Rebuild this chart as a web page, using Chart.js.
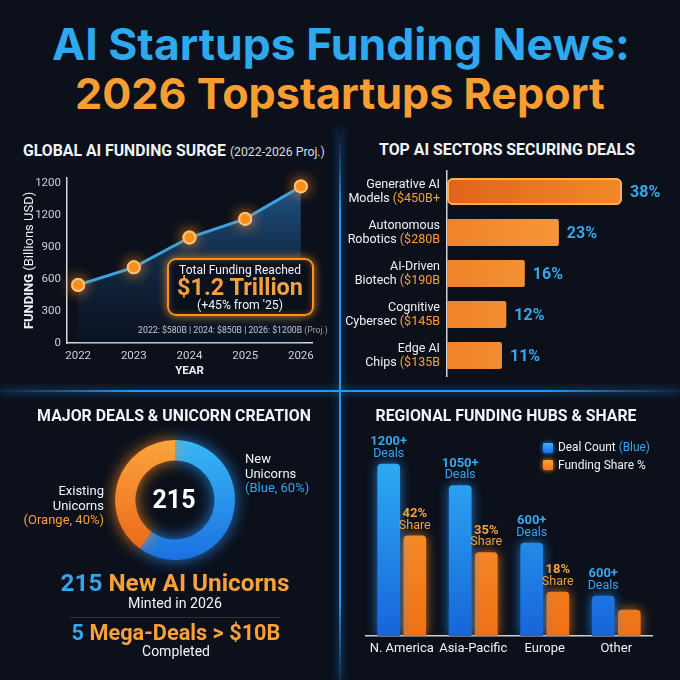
<!DOCTYPE html>
<html>
<head>
<meta charset="utf-8">
<script src="https://cdn.jsdelivr.net/npm/chart.js@4.4.1/dist/chart.umd.min.js"></script>
<style>
  body { margin:0; width:680px; height:680px; overflow:hidden; position:relative;
         background:#0b101b; font-family:Roboto, 'Noto Sans', sans-serif; color:#f1f3f7; }
  canvas { position:absolute; }
  .t { position:absolute; white-space:nowrap; line-height:1; transform:translate(-50%,-50%); }
  .l { position:absolute; white-space:nowrap; line-height:1; transform:translateY(-50%); }
  .b { font-weight:700; }
  .blue { color:#34a6ec; }
  .orange { color:#f8a03a; }
  .vline { position:absolute; left:339px; top:128px; width:2px; height:552px;
           background:linear-gradient(#1e88e500,#2a98f0 15%,#2a98f0 85%,#1e88e540);
           box-shadow:0 0 8px #1e7fd8; }
  .hline { position:absolute; left:0; top:390px; width:680px; height:2px;
           background:linear-gradient(90deg,#1e88e530,#2a98f0 20%,#2a98f0 80%,#1e88e530);
           box-shadow:0 0 8px #1e7fd8; }
  .box { position:absolute; left:167px; top:258px; width:143px; height:54px;
         border:2px solid #f7931e; border-radius:9px; background:rgba(11,15,26,0.88);
         box-shadow:0 0 10px rgba(247,147,30,0.85), inset 0 0 6px rgba(247,147,30,0.35); }
  .sq { position:absolute; width:10px; height:10px; border-radius:1px; }
</style>
</head>
<body>
<div class="vline"></div>
<div class="hline"></div>

<canvas id="cLine" width="340" height="220" style="left:0;top:165px"></canvas>
<canvas id="cSect" width="340" height="215" style="left:340px;top:165px"></canvas>
<canvas id="cDonut" width="170" height="170" style="left:90px;top:415px"></canvas>
<canvas id="cReg" width="340" height="240" style="left:340px;top:420px"></canvas>

<!-- main title -->
<div class="t b" data-w="578" style="left:341px;top:44px;font-family:Inter;font-size:40px;color:#2ea9ee">AI Startups Funding News:</div>
<div class="t b" data-w="530" style="left:340px;top:94px;font-family:Inter;font-size:40px;color:#f89d32">2026 Topstartups Report</div>

<!-- panel titles -->
<div class="l" style="left:23px;top:151px"><span class="b" data-w="203" style="font-size:15px">GLOBAL AI FUNDING SURGE</span> <span data-w="95" style="font-size:12px;color:#d9dde5">(2022-2026 Proj.)</span></div>
<div class="t b" data-w="256" style="left:507px;top:150px;font-size:15px">TOP AI SECTORS SECURING DEALS</div>
<div class="t b" data-w="274" style="left:174px;top:416px;font-size:15px">MAJOR DEALS &amp; UNICORN CREATION</div>
<div class="t b" data-w="261" style="left:506px;top:416px;font-size:15px">REGIONAL FUNDING HUBS &amp; SHARE</div>

<!-- line chart annotation -->
<div class="box"></div>
<div class="t" data-w="122" style="left:240px;top:270px;font-size:13px">Total Funding Reached</div>
<div class="t b orange" data-w="126" style="left:240px;top:288px;font-size:24px">$1.2 Trillion</div>
<div class="t" data-w="86" style="left:240px;top:305px;font-size:12px">(+45% from '25)</div>
<div class="t" data-w="190" style="left:233px;top:330px;font-size:10px;color:#c4c9d3">2022: $580B | 2024: $850B | 2026: $1200B <span style="color:#9aa1ad">(Proj.)</span></div>

<!-- donut texts -->
<div class="t b" data-w="43" style="left:174px;top:500px;font-size:26px;color:#fff">215</div>
<div style="position:absolute;right:576px;top:484px;text-align:right;font-size:13px;line-height:14.5px">Existing<br>Unicorns<br><span class="orange">(Orange, 40%)</span></div>
<div style="position:absolute;left:245px;top:452px;font-size:13px;line-height:14.5px">New<br>Unicorns<br><span class="blue">(Blue, 60%)</span></div>
<div class="t b" data-w="229" style="left:175px;top:583px;font-size:23px"><span class="blue">215</span> <span class="orange">New AI Unicorns</span></div>
<div class="t" data-w="94" style="left:175px;top:603px;font-size:14px">Minted in 2026</div>
<div style="position:absolute;left:70px;top:617px;width:210px;height:1px;background:rgba(255,255,255,0.14)"></div>
<div class="t b" data-w="209" style="left:176px;top:633px;font-size:21px"><span class="blue">5</span> <span class="orange">Mega-Deals &gt; $10B</span></div>
<div class="t" data-w="68" style="left:176px;top:651px;font-size:14px">Completed</div>

<!-- regional legend -->
<div class="sq" style="left:543px;top:443px;background:linear-gradient(#36b4f4,#1a6fe0);box-shadow:0 0 5px #1e88e5"></div>
<div class="l" data-w="92" style="left:558px;top:448px;font-size:13px">Deal Count <span class="blue">(Blue)</span></div>
<div class="sq" style="left:543px;top:460px;background:linear-gradient(#ffa43a,#f07418);box-shadow:0 0 5px #f7931e"></div>
<div class="l" data-w="88" style="left:558px;top:465px;font-size:13px">Funding Share %</div>

<script>
// --- datos del gráfico de línea ---
const years = [2022, 2023, 2024, 2025, 2026];
const funding = [545, 710, 990, 1165, 1470];
const fundingTicks = [0, 300, 600, 900, 1200, 1500];
const fundingTickLabels = ['0', '300', '600', '900', '1200', '1200'];

// --- sectores ---
const sectorNames = [['Generative AI', 'Models '], ['Autonomous', 'Robotics '], ['AI-Driven', 'Biotech '], ['Cognitive', 'Cybersec '], ['Edge AI', 'Chips ']];
const sectorAmounts = ['($450B+', '($280B', '($190B', '($145B', '($135B'];
const sectorBars = [36, 23, 16, 12.2, 11.3];
const sectorPct = ['38%', '23%', '16%', '12%', '11%'];

// --- unicornios ---
const unicornLabels = ['New Unicorns', 'Existing Unicorns'];
const unicornShare = [60, 40];

// --- regiones ---
const regions = ['N. America', 'Asia-Pacific', 'Europe', 'Other'];
const dealCount = [1200, 1050, 650, 280];
const dealLabels = ['1200+', '1050+', '600+', '600+'];
const fundingShare = [42, 35, 18.5, 11];
const shareLabels = ['42%', '35%', '18%', ''];

const WHITE = '#eef1f6';
const TICK = '#cdd1da';
const BLUE_TXT = '#36a7ec';
const ORANGE_TXT = '#f8a03a';
const FONT = 'Roboto, sans-serif';

// ajusta el tamaño de fuente de los textos al ancho medido
document.querySelectorAll('[data-w]').forEach(el => {
  const w = el.getBoundingClientRect().width;
  const fs = parseFloat(getComputedStyle(el).fontSize);
  if (w > 0) el.style.fontSize = (fs * (+el.dataset.w) / w).toFixed(2) + 'px';
});

// --- 1. GLOBAL AI FUNDING SURGE ---
const lineExtras = {
  id: 'lineExtras',
  afterDatasetDraw(chart, args) {
    const c = chart.ctx;
    args.meta.data.forEach(p => {
      c.save();
      c.shadowColor = 'rgba(255,140,30,0.95)';
      c.shadowBlur = 14;
      p.draw(c, chart.chartArea);
      c.restore();
    });
  },
  afterDraw(chart) {
    const c = chart.ctx, a = chart.chartArea;
    c.save();
    c.translate(30, (a.top + a.bottom) / 2);
    c.rotate(-Math.PI / 2);
    c.textBaseline = 'middle';
    c.font = 'bold 13px ' + FONT;
    const w1 = c.measureText('FUNDING').width;
    c.font = '13px ' + FONT;
    const w2 = c.measureText(' (Billions USD)').width;
    let x = -(w1 + w2) / 2;
    c.fillStyle = WHITE;
    c.font = 'bold 13px ' + FONT;
    c.fillText('FUNDING', x, 0);
    c.font = '13px ' + FONT;
    c.fillText(' (Billions USD)', x + w1, 0);
    c.restore();
  }
};

new Chart(document.getElementById('cLine'), {
  type: 'line',
  data: {
    datasets: [{
      data: years.map((y, i) => ({ x: y, y: funding[i] })),
      borderColor: '#3aa2e2',
      borderWidth: 3,
      tension: 0,
      fill: 'origin',
      backgroundColor: (ctx) => {
        const a = ctx.chart.chartArea;
        if (!a) return 'rgba(30,90,150,0.4)';
        const g = ctx.chart.ctx.createLinearGradient(0, a.top, 0, a.bottom);
        g.addColorStop(0, 'rgba(38,110,175,0.8)');
        g.addColorStop(1, 'rgba(18,40,70,0.15)');
        return g;
      },
      pointRadius: 6,
      pointBackgroundColor: '#f7901e',
      pointBorderColor: '#ffc27a',
      pointBorderWidth: 2
    }]
  },
  options: {
    responsive: false,
    animation: false,
    layout: { padding: { top: 10, right: 28, left: 0, bottom: 0 } },
    plugins: { legend: { display: false }, tooltip: { enabled: false } },
    scales: {
      x: {
        type: 'linear', min: 2021.8, max: 2026.2,
        afterBuildTicks: s => { s.ticks = years.map(v => ({ value: v })); },
        afterFit: s => { s.height = 42; },
        grid: { display: false, drawTicks: false },
        border: { color: '#d6d9e0', width: 1.5 },
        ticks: { color: TICK, font: { size: 11.5, family: FONT }, padding: 6, maxRotation: 0, callback: v => String(v) },
        title: { display: true, text: 'YEAR', color: WHITE, font: { size: 11.5, weight: 'bold', family: FONT }, padding: { top: 0, bottom: 7 } }
      },
      y: {
        min: 0, max: 1550,
        afterBuildTicks: s => { s.ticks = fundingTicks.map(v => ({ value: v })); },
        afterFit: s => { s.width = 67; },
        grid: { display: false, drawTicks: false },
        border: { color: '#d6d9e0', width: 1.5 },
        ticks: { color: TICK, font: { size: 11.5, family: FONT }, padding: 6, callback: (v, i) => fundingTickLabels[i] }
      }
    }
  },
  plugins: [lineExtras]
});

// --- 2. TOP AI SECTORS ---
const sectorExtras = {
  id: 'sectorExtras',
  afterDatasetsDraw(chart) {
    const c = chart.ctx, meta = chart.getDatasetMeta(0), left = chart.chartArea.left;
    c.save();
    c.shadowColor = 'rgba(255,150,40,0.95)';
    c.shadowBlur = 16;
    meta.data[0].draw(c);
    c.restore();
    c.save();
    c.textBaseline = 'middle';
    meta.data.forEach((bar, i) => {
      c.font = 'bold 16px ' + FONT;
      c.fillStyle = BLUE_TXT;
      c.textAlign = 'left';
      c.fillText(sectorPct[i], bar.x + 8, bar.y + 1);
      c.font = '12.5px ' + FONT;
      c.textAlign = 'right';
      c.fillStyle = WHITE;
      c.fillText(sectorNames[i][0], left - 7, bar.y - 7);
      const w = c.measureText(sectorAmounts[i]).width;
      c.fillStyle = ORANGE_TXT;
      c.fillText(sectorAmounts[i], left - 7, bar.y + 7);
      c.fillStyle = WHITE;
      c.fillText(sectorNames[i][1], left - 7 - w, bar.y + 7);
    });
    c.restore();
  }
};

new Chart(document.getElementById('cSect'), {
  type: 'bar',
  data: {
    labels: sectorNames.map(n => n[0]),
    datasets: [{
      data: sectorBars,
      backgroundColor: (ctx) => {
        const a = ctx.chart.chartArea;
        if (!a) return '#f7931e';
        const g = ctx.chart.ctx.createLinearGradient(a.left, 0, a.left + 180, 0);
        if (ctx.dataIndex === 0) {
          g.addColorStop(0, '#df641c'); g.addColorStop(1, '#f28a28');
        } else {
          g.addColorStop(0, '#f0822a'); g.addColorStop(1, '#fba23e');
        }
        return g;
      },
      borderColor: ctx => ctx.dataIndex === 0 ? '#ffbd62' : 'rgba(0,0,0,0)',
      borderWidth: ctx => ctx.dataIndex === 0 ? 2 : 0,
      borderRadius: ctx => ctx.dataIndex === 0 ? 6 : 2,
      borderSkipped: ctx => ctx.dataIndex === 0 ? false : 'start',
      barPercentage: 0.66,
      categoryPercentage: 1
    }]
  },
  options: {
    indexAxis: 'y',
    responsive: false,
    animation: false,
    layout: { padding: { top: 6, right: 19, bottom: 4, left: 0 } },
    plugins: { legend: { display: false }, tooltip: { enabled: false } },
    scales: {
      x: { display: false, min: 0, max: 44 },
      y: {
        afterFit: s => { s.width = 107; },
        grid: { display: false, drawTicks: false },
        border: { color: '#cfd3da', width: 1.5 },
        ticks: { display: false }
      }
    }
  },
  plugins: [sectorExtras]
});

// --- 3. UNICORNIOS (dona) ---
const donutGlow = {
  id: 'donutGlow',
  beforeDatasetDraw(chart, args) {
    const c = chart.ctx;
    const glow = ['rgba(40,150,255,0.8)', 'rgba(255,140,30,0.8)'];
    args.meta.data.forEach((arc, i) => {
      c.save();
      c.shadowColor = glow[i];
      c.shadowBlur = 16;
      arc.draw(c);
      c.restore();
    });
    return false;
  }
};

new Chart(document.getElementById('cDonut'), {
  type: 'doughnut',
  data: {
    labels: unicornLabels,
    datasets: [{
      data: unicornShare,
      backgroundColor: (ctx) => {
        const a = ctx.chart.chartArea;
        if (!a) return ctx.dataIndex === 0 ? '#2f9ff0' : '#f7931e';
        const g = ctx.chart.ctx.createLinearGradient(0, a.top, 0, a.bottom);
        if (ctx.dataIndex === 0) {
          g.addColorStop(0, '#37b8f7'); g.addColorStop(1, '#1c70e0');
        } else {
          g.addColorStop(0, '#fba43c'); g.addColorStop(1, '#ea6418');
        }
        return g;
      },
      borderWidth: 0
    }]
  },
  options: {
    responsive: false,
    animation: false,
    cutout: '66%',
    layout: { padding: 25 },
    plugins: { legend: { display: false }, tooltip: { enabled: false } }
  },
  plugins: [donutGlow]
});

// --- 4. REGIONAL FUNDING HUBS ---
const regExtras = {
  id: 'regExtras',
  beforeDatasetDraw(chart, args) {
    const c = chart.ctx;
    c.save();
    c.shadowColor = args.index === 0 ? 'rgba(40,150,255,0.75)' : 'rgba(255,140,30,0.75)';
    c.shadowBlur = 12;
  },
  afterDatasetDraw(chart) {
    chart.ctx.restore();
  },
  afterDatasetsDraw(chart) {
    const c = chart.ctx;
    c.save();
    c.textAlign = 'center';
    c.textBaseline = 'middle';
    const two = (a, b, x, y, col) => {
      c.fillStyle = col;
      c.font = 'bold 13px ' + FONT;
      c.fillText(a, x, y - 22);
      c.font = '12.5px ' + FONT;
      c.fillText(b, x, y - 10);
    };
    chart.getDatasetMeta(0).data.forEach((b, i) => two(dealLabels[i], 'Deals', b.x, b.y, BLUE_TXT));
    chart.getDatasetMeta(1).data.forEach((b, i) => { if (shareLabels[i]) two(shareLabels[i], 'Share', b.x, b.y, ORANGE_TXT); });
    c.restore();
  }
};

const vGrad = (top, bottom, fallback) => (ctx) => {
  const a = ctx.chart.chartArea;
  if (!a) return fallback;
  const g = ctx.chart.ctx.createLinearGradient(0, a.top, 0, a.bottom);
  g.addColorStop(0, top); g.addColorStop(1, bottom);
  return g;
};

new Chart(document.getElementById('cReg'), {
  type: 'bar',
  data: {
    labels: regions,
    datasets: [
      { label: 'Deal Count', data: dealCount, yAxisID: 'yD',
        backgroundColor: vGrad('#31b5f6', '#1765da', '#2a90ec'),
        borderRadius: { topLeft: 4, topRight: 4 }, borderSkipped: 'start',
        categoryPercentage: 0.73, barPercentage: 0.87 },
      { label: 'Funding Share %', data: fundingShare, yAxisID: 'yS',
        backgroundColor: vGrad('#ffa336', '#ef7016', '#f7931e'),
        borderRadius: { topLeft: 4, topRight: 4 }, borderSkipped: 'start',
        categoryPercentage: 0.73, barPercentage: 0.87 }
    ]
  },
  options: {
    responsive: false,
    animation: false,
    layout: { padding: { top: 15, right: 28, left: 26, bottom: 0 } },
    plugins: { legend: { display: false }, tooltip: { enabled: false } },
    scales: {
      x: {
        afterFit: s => { s.height = 24; s.paddingLeft = 0; s.paddingRight = 0; },
        grid: { display: false, drawTicks: false },
        border: { color: '#cfd3da', width: 1.5 },
        ticks: { color: WHITE, font: { size: 13, family: FONT }, padding: 5, maxRotation: 0, minRotation: 0, autoSkip: false }
      },
      yD: { display: false, min: 0, max: 1400 },
      yS: { display: false, min: 0, max: 84 }
    }
  },
  plugins: [regExtras]
});
</script>
</body>
</html>
